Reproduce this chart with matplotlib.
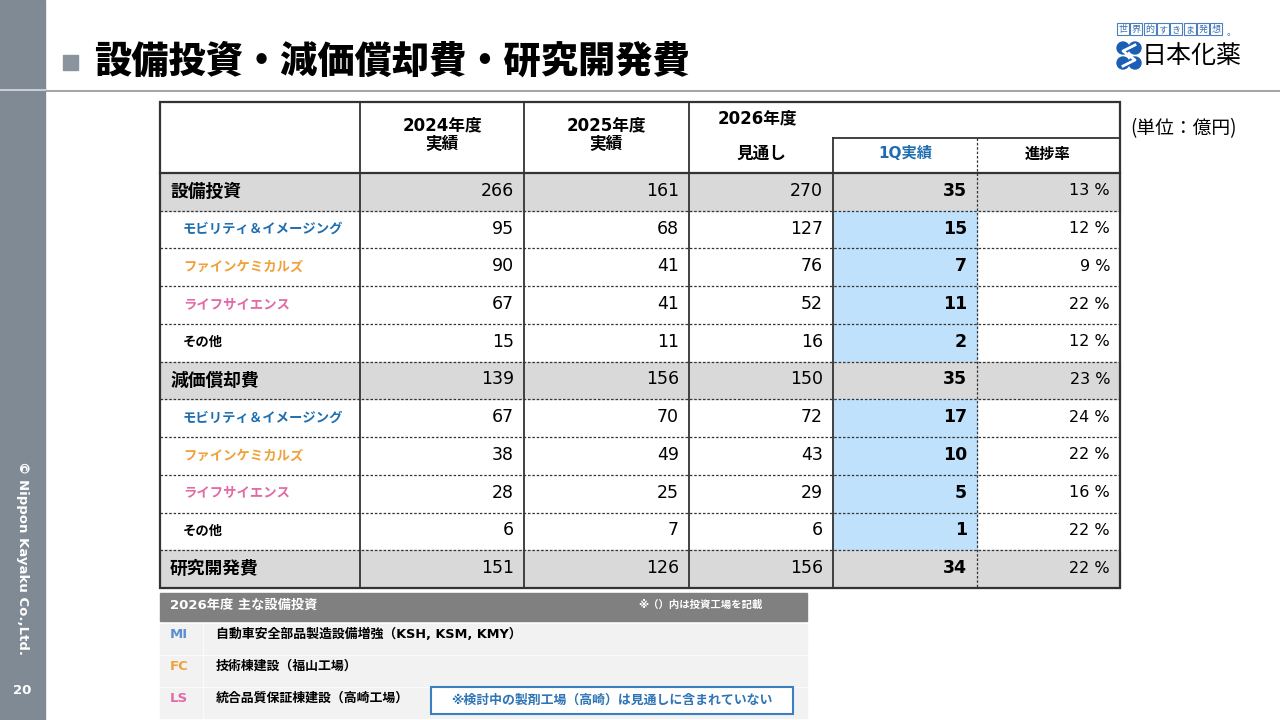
import matplotlib.pyplot as plt
from matplotlib.patches import Rectangle, Circle

plt.rcParams['font.family'] = ['DejaVu Sans', 'Noto Sans CJK JP']

# table data (unit: 100 million yen)
rows = ['設備投資', 'モビリティ＆イメージング', 'ファインケミカルズ', 'ライフサイエンス', 'その他',
        '減価償却費', 'モビリティ＆イメージング', 'ファインケミカルズ', 'ライフサイエンス', 'その他',
        '研究開発費']
is_total = [True, False, False, False, False, True, False, False, False, False, True]
fy2024 = [266, 95, 90, 67, 15, 139, 67, 38, 28, 6, 151]
fy2025 = [161, 68, 41, 41, 11, 156, 70, 49, 25, 7, 126]
fy2026_plan = [270, 127, 76, 52, 16, 150, 72, 43, 29, 6, 156]
q1_actual = [35, 15, 7, 11, 2, 35, 17, 10, 5, 1, 34]
progress = [13, 12, 9, 22, 12, 23, 24, 22, 16, 22, 22]

seg_colors = {'モビリティ＆イメージング': '#1f6fb0', 'ファインケミカルズ': '#f0a23a',
              'ライフサイエンス': '#e26aa6', 'その他': 'black'}

capex_codes = ['MI', 'FC', 'LS']
capex_items = ['自動車安全部品製造設備増強（KSH, KSM, KMY）', '技術棟建設（福山工場）', '統合品質保証棟建設（高崎工場）']
code_colors = ['#5b8fd0', '#f0a23a', '#e26aa6']

fig = plt.figure(figsize=(12.8, 7.2), dpi=100)
ax = fig.add_axes([0, 0, 1, 1])
ax.set_xlim(0, 1280)
ax.set_ylim(720, 0)
ax.axis('off')

# sidebar
ax.add_patch(Rectangle((0, 0), 45, 720, color='#7f8a94', zorder=1))
ax.plot([0, 45], [90, 90], color='#c8ced3', lw=1.5, zorder=2)
ax.text(22, 558, '© Nippon Kayaku Co.,Ltd.', rotation=-90, color='white', fontsize=9.5,
        fontweight='bold', ha='center', va='center')
ax.text(22, 690, '20', color='white', fontsize=9.5, fontweight='bold', ha='center', va='center')

# title
ax.add_patch(Rectangle((63, 55), 15, 15, color='#8a949c'))
ax.text(94, 62, '設備投資・減価償却費・研究開発費', fontsize=26.8, fontweight='heavy',
        ha='left', va='center', family='Noto Sans CJK JP')
ax.plot([47, 1280], [91, 91], color='#a6a6a6', lw=1.5)

# logo
for i, ch in enumerate('世界的すきま発想'):
    x0 = 1117 + i * 13.3
    ax.add_patch(Rectangle((x0, 23), 12, 12, fill=False, ec='#4a7fc0', lw=0.8))
    ax.text(x0 + 6, 29.5, ch, fontsize=6.5, color='#3a6fb0', ha='center', va='center',
            family='Noto Sans CJK JP')
ax.text(1227, 33, '。', fontsize=6.5, color='#3a6fb0', ha='left', va='center', family='Noto Sans CJK JP')
for cx, cy in [(1123, 48), (1135, 48), (1123, 63), (1135, 63)]:
    ax.add_patch(Circle((cx, cy), 6, color='#1a5fb4'))
ax.plot([1135, 1123, 1135, 1123], [45, 51, 60, 66], color='white', lw=2)
ax.text(1142, 56, '日本化薬', fontsize=18, ha='left', va='center', family='Noto Sans CJK JP')

# unit
ax.text(1130, 129, '(単位：億円)', fontsize=13.5, ha='left', va='center', family='Noto Sans CJK JP')

# table geometry
cols = [160, 360, 524, 689, 833, 977, 1120]
top, head_bot, bot = 102, 173, 588
rh = (bot - head_bot) / len(rows)

for i, name in enumerate(rows):
    y0 = head_bot + i * rh
    yc = y0 + rh / 2
    if is_total[i]:
        ax.add_patch(Rectangle((cols[0], y0), cols[-1] - cols[0], rh, color='#d9d9d9', zorder=1))
        ax.text(170, yc, name, fontsize=12.8, fontweight='bold', ha='left', va='center')
    else:
        ax.add_patch(Rectangle((cols[4], y0), cols[5] - cols[4], rh, color='#bfe1fb', zorder=1))
        ax.text(183, yc, name, fontsize=9.6, fontweight='bold', ha='left', va='center',
                color=seg_colors[name])
    vals = [fy2024[i], fy2025[i], fy2026_plan[i]]
    for j, v in enumerate(vals):
        ax.text(cols[j + 2] - 10, yc - 1, str(v), fontsize=12.5, ha='right', va='center')
    ax.text(cols[5] - 10, yc - 1, str(q1_actual[i]), fontsize=12.5, fontweight='bold', ha='right', va='center')
    ax.text(cols[6] - 10, yc - 1, f'{progress[i]} %', fontsize=11.5, ha='right', va='center')
    if i > 0:
        ax.plot([cols[0], cols[-1]], [y0, y0], color='#333333', lw=0.9, ls=(0, (2, 1.5)), zorder=3)

# header texts
hk = dict(fontweight='bold', ha='center', va='center')
ax.text(442, 135, '2024年度\n実績', fontsize=12, linespacing=1.05, **hk)
ax.text(606, 135, '2025年度\n実績', fontsize=12, linespacing=1.05, **hk)
ax.text(757, 118, '2026年度', fontsize=12, **hk)
ax.text(761, 154, '見通し', fontsize=12, **hk)
ax.text(905, 154, '1Q実績', fontsize=11, color='#1f6fb0', **hk)
ax.text(1048, 154, '進捗率', fontsize=11, **hk)

# table lines
lc = '#333333'
ax.add_patch(Rectangle((cols[0], top), cols[-1] - cols[0], bot - top, fill=False, ec=lc, lw=1.6, zorder=4))
ax.plot([cols[0], cols[-1]], [head_bot, head_bot], color=lc, lw=1.6, zorder=4)
ax.plot([cols[4], cols[-1]], [138, 138], color=lc, lw=1.3, zorder=4)
for x in cols[1:4]:
    ax.plot([x, x], [top, bot], color=lc, lw=1.3, zorder=4)
ax.plot([cols[4], cols[4]], [138, bot], color=lc, lw=1.3, zorder=4)
ax.plot([cols[5], cols[5]], [138, bot], color=lc, lw=0.9, ls=(0, (2, 1.5)), zorder=4)

# main capex box
ax.add_patch(Rectangle((160, 593), 647, 28, color='#808080'))
ax.text(170, 605, '2026年度 主な設備投資', fontsize=9.5, fontweight='bold', color='white', ha='left', va='center')
ax.text(638, 605, '※（）内は投資工場を記載', fontsize=7.5, fontweight='bold', color='white', ha='left', va='center')
for k, (code, item) in enumerate(zip(capex_codes, capex_items)):
    y0 = 624 + k * 32
    ax.add_patch(Rectangle((160, y0), 42, 30, color='#f2f2f2'))
    ax.add_patch(Rectangle((204, y0), 603, 30, color='#f2f2f2'))
    ax.text(170, y0 + 10, code, fontsize=9.5, fontweight='bold', color=code_colors[k], ha='left', va='center')
    ax.text(216, y0 + 10, item, fontsize=9.3, fontweight='bold', ha='left', va='center')
ax.add_patch(Rectangle((431, 687), 362, 27, fc='white', ec='#3c7fc0', lw=1.5))
ax.text(612, 700, '※検討中の製剤工場（高崎）は見通しに含まれていない', fontsize=9.3, fontweight='bold',
        color='#2e75b6', ha='center', va='center')

plt.savefig('out.png', dpi=100)
